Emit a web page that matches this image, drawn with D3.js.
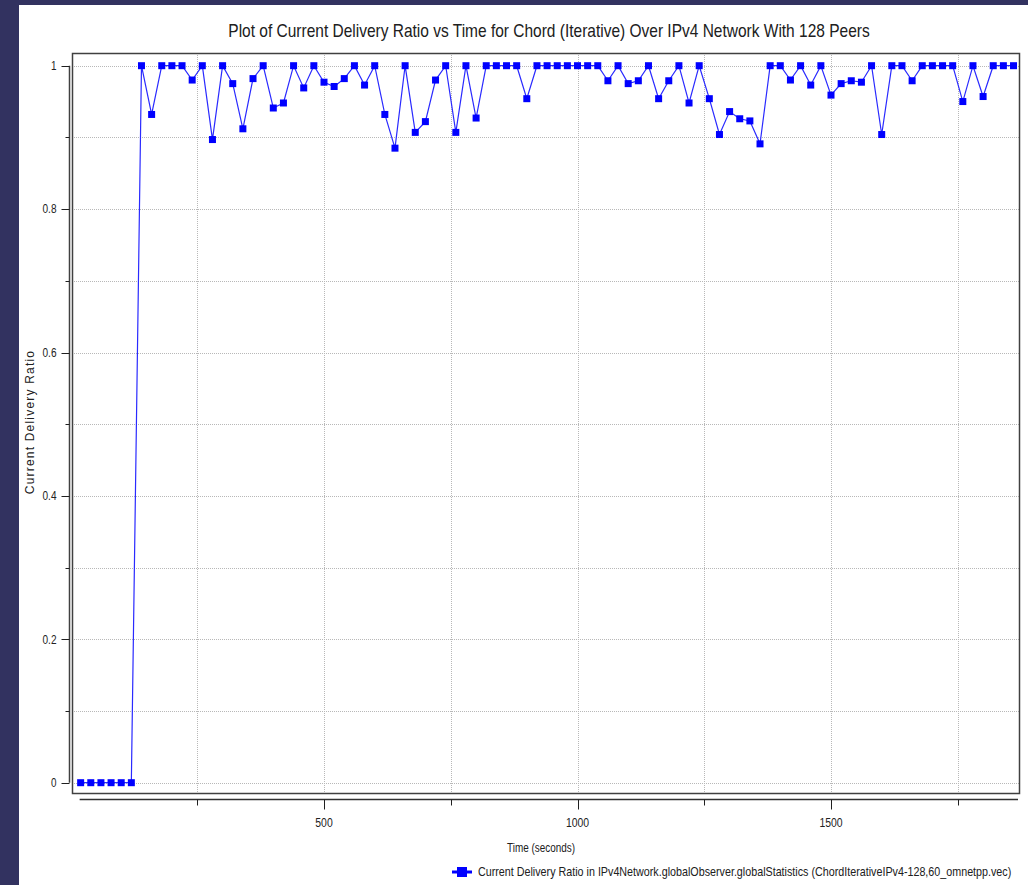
<!DOCTYPE html>
<html>
<head>
<meta charset="utf-8">
<script src="https://cdn.jsdelivr.net/npm/d3@7"></script>
<style>
  body { margin: 0; background: #ffffff; }
  svg { display: block; }
  .narrow { font-family: "Liberation Sans Narrow", "Arial Narrow", "Liberation Sans", sans-serif; }
</style>
</head>
<body>
<script>
/*
=================================
DATA
=================================
*/
var times = [20, 40, 60, 80, 100, 120, 140, 160, 180, 200, 220, 240, 260, 280, 300, 320, 340, 360, 380, 400,
             420, 440, 460, 480, 500, 520, 540, 560, 580, 600, 620, 640, 660, 680, 700, 720, 740, 760, 780, 800,
             820, 840, 860, 880, 900, 920, 940, 960, 980, 1000, 1020, 1040, 1060, 1080, 1100, 1120, 1140, 1160,
             1180, 1200, 1220, 1240, 1260, 1280, 1300, 1320, 1340, 1360, 1380, 1400, 1420, 1440, 1460, 1480,
             1500, 1520, 1540, 1560, 1580, 1600, 1620, 1640, 1660, 1680, 1700, 1720, 1740, 1760, 1780, 1800,
             1820, 1840, 1860];

var ratios = [0, 0, 0, 0, 0, 0, 1, 0.932, 1, 1, 1, 0.98, 1, 0.897, 1, 0.975, 0.912, 0.982, 1, 0.941,
              0.948, 1, 0.969, 1, 0.977, 0.971, 0.982, 1, 0.973, 1, 0.932, 0.885, 1, 0.907, 0.922, 0.98, 1, 0.907, 1, 0.927,
              1, 1, 1, 1, 0.954, 1, 1, 1, 1, 1, 1, 1, 0.979, 1, 0.975, 0.979, 1, 0.954,
              0.979, 1, 0.948, 1, 0.954, 0.904, 0.936, 0.926, 0.923, 0.891, 1, 1, 0.98, 1, 0.973, 1,
              0.959, 0.975, 0.979, 0.977, 1, 0.904, 1, 1, 0.979, 1, 1, 1, 1, 0.95, 1, 0.957,
              1, 1, 1];

var yLabelTicks = [0, 0.2, 0.4, 0.6, 0.8, 1];
var yGridTicks = [0, 0.1, 0.2, 0.3, 0.4, 0.5, 0.6, 0.7, 0.8, 0.9, 1];
var xLabelTicks = [500, 1000, 1500];
var xMinorTicks = [250, 750, 1250, 1750];

var titleText = 'Plot of Current Delivery Ratio vs Time for Chord (Iterative) Over IPv4 Network With 128 Peers';
var legendText = 'Current Delivery Ratio in IPv4Network.globalObserver.globalStatistics (ChordIterativeIPv4-128,60_omnetpp.vec)';

var points = times.map(function(t, i) { return {t: t, v: ratios[i]}; });

/*
=================================
CONTAINER
=================================
*/
var svg = d3.select('body').append('svg')
            .attr('width', 1028)
            .attr('height', 885);

svg.append('rect').attr('width', 1028).attr('height', 885).attr('fill', '#323260');
svg.append('rect').attr('x', 19).attr('y', 5).attr('width', 1009).attr('height', 880).attr('fill', '#ffffff');

// plot frame
var frame = {left: 72, right: 1019, top: 53, bottom: 793};

var x = d3.scaleLinear().domain([0, 1000]).range([70.5, 577.5]);
var y = d3.scaleLinear().domain([0, 1]).range([782.7, 65.7]);

// squeeze a text (drawn at the origin of its own group) to a given width
var squeeze = function(textSel, width) {
  var natural = textSel.node().getComputedTextLength();
  return natural > width ? width / natural : 1;
};

/*
=================================
GRID
=================================
*/
svg.append('g').selectAll('line.hgrid')
   .data(yGridTicks).enter().append('line')
   .attr('x1', frame.left).attr('x2', frame.right)
   .attr('y1', d => Math.round(y(d)) + 0.5).attr('y2', d => Math.round(y(d)) + 0.5)
   .attr('stroke', '#b8b8b8').attr('stroke-dasharray', '1,1');

svg.append('g').selectAll('line.vgrid')
   .data(xMinorTicks.concat(xLabelTicks)).enter().append('line')
   .attr('x1', d => Math.round(x(d)) + 0.5).attr('x2', d => Math.round(x(d)) + 0.5)
   .attr('y1', frame.top).attr('y2', frame.bottom)
   .attr('stroke', '#b8b8b8').attr('stroke-dasharray', '1,1');

svg.append('rect')
   .attr('x', frame.left + 0.5).attr('y', frame.top + 0.5)
   .attr('width', frame.right - frame.left).attr('height', frame.bottom - frame.top)
   .attr('fill', 'none').attr('stroke', '#404040').attr('stroke-width', 1.5);

/*
=================================
AXES
=================================
*/
// y axis, spans 0..1
var yAxisG = svg.append('g').attr('transform', 'translate(69.5,0)');
yAxisG.append('line')
      .attr('y1', y(0)).attr('y2', y(1))
      .attr('stroke', '#404040').attr('stroke-width', 1.5);
yAxisG.selectAll('line.tick')
      .data(yGridTicks).enter().append('line')
      .attr('x1', d => yLabelTicks.indexOf(d) >= 0 ? -8 : -4).attr('x2', 0)
      .attr('y1', d => Math.round(y(d)) + 0.5).attr('y2', d => Math.round(y(d)) + 0.5)
      .attr('stroke', '#202020');
yAxisG.selectAll('text')
      .data(yLabelTicks).enter().append('text')
      .attr('class', 'narrow')
      .attr('x', -13).attr('y', d => y(d))
      .attr('dy', '0.35em')
      .attr('text-anchor', 'end')
      .attr('font-size', 12)
      .attr('textLength', d => d3.format('~g')(d).length === 1 ? 5.5 : 14)
      .attr('lengthAdjust', 'spacingAndGlyphs')
      .attr('fill', '#222')
      .text(d => d3.format('~g')(d));

// x axis, spans the data range
var xAxisY = 799.5;
svg.append('line')
   .attr('x1', x(times[0]) - 1).attr('x2', frame.right - 1)
   .attr('y1', xAxisY).attr('y2', xAxisY)
   .attr('stroke', '#303030').attr('stroke-width', 1.5);
svg.append('g').selectAll('line')
   .data(xLabelTicks.concat(xMinorTicks)).enter().append('line')
   .attr('x1', d => Math.round(x(d)) + 0.5).attr('x2', d => Math.round(x(d)) + 0.5)
   .attr('y1', xAxisY).attr('y2', d => xLabelTicks.indexOf(d) >= 0 ? xAxisY + 10 : xAxisY + 6)
   .attr('stroke', '#202020');
svg.append('g').selectAll('text')
   .data(xLabelTicks).enter().append('text')
   .attr('class', 'narrow')
   .attr('x', d => x(d)).attr('y', 827)
   .attr('text-anchor', 'middle')
   .attr('font-size', 12)
   .attr('textLength', d => String(d).length * 5.8)
   .attr('lengthAdjust', 'spacingAndGlyphs')
   .attr('fill', '#222')
   .text(d => d);

/*
=================================
SERIES
=================================
*/
var line = d3.line().x(d => x(d.t)).y(d => y(d.v));

svg.append('path')
   .datum(points)
   .attr('d', line)
   .attr('fill', 'none')
   .attr('stroke', '#2a2aff')
   .attr('stroke-width', 1.2);

svg.append('g').selectAll('rect')
   .data(points).enter().append('rect')
   .attr('x', d => x(d.t) - 3.5).attr('y', d => y(d.v) - 3.5)
   .attr('width', 7).attr('height', 7)
   .attr('fill', '#0000ff');

/*
=================================
TEXTS
=================================
*/
var titleG = svg.append('g');
var title = titleG.append('text')
   .attr('class', 'narrow')
   .attr('text-anchor', 'middle')
   .attr('font-size', 18)
   .attr('fill', '#202020')
   .text(titleText);
titleG.attr('transform', 'translate(549,37) scale(' + squeeze(title, 642) + ',1)');

var yLabelG = svg.append('g');
var yLabel = yLabelG.append('text')
   .attr('class', 'narrow')
   .attr('text-anchor', 'middle')
   .attr('font-size', 12)
   .attr('letter-spacing', 1.2)
   .attr('fill', '#202020')
   .text('Current Delivery Ratio');
yLabelG.attr('transform', 'translate(34,422) rotate(-90)');

var xLabelG = svg.append('g');
var xLabel = xLabelG.append('text')
   .attr('class', 'narrow')
   .attr('text-anchor', 'middle')
   .attr('font-size', 13)
   .attr('fill', '#202020')
   .text('Time (seconds)');
xLabelG.attr('transform', 'translate(541,852) scale(' + squeeze(xLabel, 68) + ',1)');

// legend
var legend = svg.append('g').attr('transform', 'translate(452,872)');
legend.append('line').attr('x1', 0).attr('x2', 20).attr('y1', 0).attr('y2', 0)
      .attr('stroke', '#0000ff').attr('stroke-width', 3);
legend.append('rect').attr('x', 5).attr('y', -5).attr('width', 10).attr('height', 10)
      .attr('fill', '#0000ff');
var legendTextG = legend.append('g');
var legendLabel = legendTextG.append('text')
      .attr('class', 'narrow')
      .attr('dy', '0.35em')
      .attr('font-size', 12.5)
      .attr('fill', '#202020')
      .text(legendText);
legendTextG.attr('transform', 'translate(26,0) scale(' + squeeze(legendLabel, 534) + ',1)');
</script>
</body>
</html>
